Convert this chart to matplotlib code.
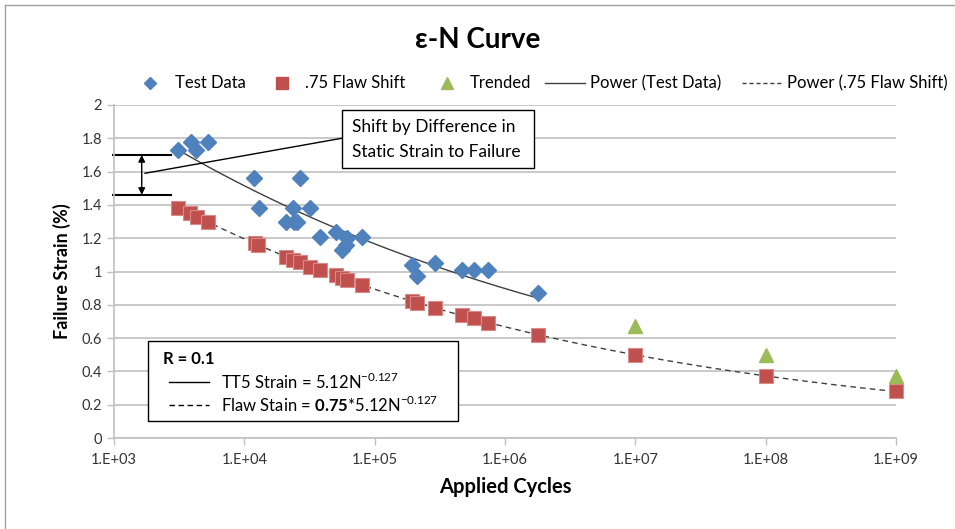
import matplotlib
matplotlib.use('Agg')
import matplotlib.pyplot as plt
from matplotlib.lines import Line2D
from matplotlib.patches import Rectangle
import numpy as np

plt.rcParams['font.family'] = ['Lato', 'DejaVu Sans']
plt.rcParams['mathtext.fontset'] = 'custom'
plt.rcParams['mathtext.rm'] = 'Lato'
plt.rcParams['mathtext.bf'] = 'Lato:bold'

# test data (cycles, strain %)
test_n = [3090, 3900, 4290, 5300, 11900, 12900, 26700, 23700, 32100, 20800, 24200, 25400,
          38300, 50200, 61300, 60300, 55800, 80000, 194500, 210000, 292000, 466000,
          579000, 741000, 1790000]
test_s = [1.73, 1.78, 1.73, 1.78, 1.56, 1.38, 1.56, 1.38, 1.38, 1.30, 1.30, 1.30,
          1.21, 1.24, 1.20, 1.16, 1.13, 1.21, 1.04, 0.97, 1.05, 1.01,
          1.01, 1.01, 0.87]

# .75 flaw shift
flaw_n = [3090, 3830, 4310, 5300, 12100, 12800, 20800, 23500, 26700, 32100, 38300,
          50200, 55800, 61300, 80000, 194500, 210000, 292000, 466000, 579000, 741000,
          1790000, 1e7, 1e8, 1e9]
flaw_s = [1.38, 1.35, 1.33, 1.30, 1.17, 1.16, 1.09, 1.07, 1.06, 1.03, 1.01,
          0.98, 0.96, 0.95, 0.92, 0.82, 0.81, 0.78, 0.74, 0.72, 0.69,
          0.62, 0.50, 0.37, 0.28]

# trended
trend_n = [1e7, 1e8, 1e9]
trend_s = [0.67, 0.50, 0.37]

y_ticks = [0, 0.2, 0.4, 0.6, 0.8, 1, 1.2, 1.4, 1.6, 1.8, 2]
y_labels = ['0', '0.2', '0.4', '0.6', '0.8', '1', '1.2', '1.4', '1.6', '1.8', '2']
x_ticks = [1e3, 1e4, 1e5, 1e6, 1e7, 1e8, 1e9]
x_labels = ['1.E+03', '1.E+04', '1.E+05', '1.E+06', '1.E+07', '1.E+08', '1.E+09']

blue = '#4F81BD'
red = '#C0504D'
green = '#9BBB59'
grid_c = '#c0c0c0'
line_c = '#404040'

W, H = 955, 529
fig = plt.figure(figsize=(W / 100, H / 100), dpi=100)
ax = fig.add_axes([114 / W, 1 - 438 / H, 782 / W, 333 / H])

# power trendlines (least squares in log-log, like Excel)
b1, a1 = np.polyfit(np.log(test_n), np.log(test_s), 1)
xn1 = np.logspace(np.log10(min(test_n)), np.log10(max(test_n)), 200)
ax.plot(xn1, np.exp(a1) * xn1 ** b1, color=line_c, lw=1.0, zorder=2)
b2, a2 = np.polyfit(np.log(flaw_n), np.log(flaw_s), 1)
xn2 = np.logspace(np.log10(min(flaw_n)), np.log10(max(flaw_n)), 200)
ax.plot(xn2, np.exp(a2) * xn2 ** b2, color=line_c, lw=1.0, ls=(0, (4, 3)), zorder=2)

ax.plot(test_n, test_s, 'D', color=blue, ms=8, mec=blue, ls='none', zorder=3, clip_on=False)
ax.plot(flaw_n, flaw_s, 's', color=red, ms=9.5, mec='#d88a88', mew=0.8, ls='none',
        zorder=3, clip_on=False)
ax.plot(trend_n, trend_s, '^', color=green, ms=10, mec=green, ls='none', zorder=3,
        clip_on=False)

ax.set_xscale('log')
ax.set_xlim(1e3, 1e9)
ax.set_ylim(0, 2)
ax.set_xticks(x_ticks)
ax.set_xticklabels(x_labels)
ax.xaxis.set_minor_locator(matplotlib.ticker.NullLocator())
ax.set_yticks(y_ticks)
ax.set_yticklabels(y_labels)
ax.tick_params(axis='both', labelsize=10.5, colors=grid_c, labelcolor='#333333',
               length=5, width=1)
ax.tick_params(axis='x', pad=6)
ax.grid(axis='y', color=grid_c, lw=1.2)
ax.set_axisbelow(True)
for s in ['top', 'right']:
    ax.spines[s].set_visible(False)
for s in ['left', 'bottom']:
    ax.spines[s].set_color(grid_c)
    ax.spines[s].set_linewidth(1.2)

ax.set_xlabel('Applied Cycles', fontsize=14.5, fontweight='bold', labelpad=7)
ax.set_ylabel('Failure Strain (%)', fontsize=13, fontweight='bold', labelpad=8)
fig.text(0.5, 1 - 40 / H, 'ε-N Curve', fontsize=20, fontweight='bold',
         ha='center', va='center')

# shift bracket annotation
ax.plot([0.98e3, 2735], [1.70, 1.70], color='black', lw=1.5, clip_on=False)
ax.plot([0.98e3, 2735], [1.46, 1.46], color='black', lw=1.5, clip_on=False)
ax.annotate('', xy=(1632, 1.70), xytext=(1632, 1.46),
            arrowprops=dict(arrowstyle='<|-|>', color='black', lw=1.0,
                            mutation_scale=10, shrinkA=0, shrinkB=0))
ax.plot([1730, 55800], [1.59, 1.80], color='black', lw=1.0)
ax.add_patch(Rectangle((55800, 1.623), 1.68e6 - 55800, 1.970 - 1.623, fc='white',
                       ec='black', lw=1.0, zorder=4))
ax.text(67100, 1.870, 'Shift by Difference in', fontsize=12.5, ha='left',
        va='center', zorder=5)
ax.text(67100, 1.720, 'Static Strain to Failure', fontsize=12.5, ha='left',
        va='center', zorder=5)

# R = 0.1 box
ax.add_patch(Rectangle((0.0431, 0.052), 0.3972, 0.240, transform=ax.transAxes,
                       fc='white', ec='black', lw=1.0, zorder=4))
ax.text(0.0627, 0.237, 'R = 0.1', transform=ax.transAxes, fontsize=12,
        fontweight='bold', va='center', zorder=5)
ax.plot([0.0703, 0.1215], [0.169, 0.169], transform=ax.transAxes, color='black',
        lw=1.0, zorder=5)
ax.plot([0.0703, 0.1215], [0.099, 0.099], transform=ax.transAxes, color='black',
        lw=1.0, ls=(0, (4, 2.5)), zorder=5)
ax.text(0.1364, 0.169, 'TT5 Strain = 5.12N$^{-0.127}$', transform=ax.transAxes,
        fontsize=12, va='center', zorder=5)
ax.text(0.1364, 0.099, r'Flaw Stain = $\mathbf{0.75}$*5.12N$^{-0.127}$',
        transform=ax.transAxes, fontsize=12, va='center', zorder=5)

# legend row on top (placed by hand to match the layout)
ly = 1 - 83 / H
leg_font = 12
fig.add_artist(Line2D([150 / W], [ly], marker='D', color=blue, ms=6.5, ls='none'))
fig.text(175 / W, ly, 'Test Data', fontsize=leg_font, va='center')
fig.add_artist(Line2D([282 / W], [ly], marker='s', color=red, ms=8, ls='none'))
fig.text(305 / W, ly, '.75 Flaw Shift', fontsize=leg_font, va='center')
fig.add_artist(Line2D([447 / W], [ly], marker='^', color=green, ms=8, ls='none'))
fig.text(470 / W, ly, 'Trended', fontsize=leg_font, va='center')
fig.add_artist(Line2D([545 / W, 585 / W], [ly, ly], color=line_c, lw=1.0))
fig.text(590 / W, ly, 'Power (Test Data)', fontsize=leg_font, va='center')
fig.add_artist(Line2D([742 / W, 782 / W], [ly, ly], color=line_c, lw=1.0,
                      ls=(0, (3, 2))))
fig.text(787 / W, ly, 'Power (.75 Flaw Shift)', fontsize=leg_font, va='center')

# chart area border (top & left visible)
fig.add_artist(Line2D([0.005, 1.0], [0.99, 0.99], color='#a0a0a0', lw=1.0))
fig.add_artist(Line2D([0.005, 0.005], [0.0, 0.99], color='#a0a0a0', lw=1.0))

plt.savefig('out.png', dpi=100)
